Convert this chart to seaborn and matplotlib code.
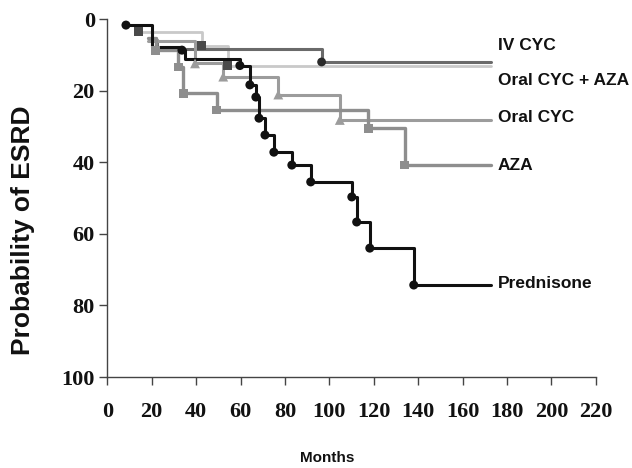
import matplotlib
matplotlib.use("Agg")
import matplotlib.pyplot as plt
import seaborn as sns
import pandas as pd

# ---- data (months, % probability of ESRD) ----
end_month = 173.0

pred_t = [8.4, 20.0, 33.6, 35.0, 59.7, 64.2, 66.9, 68.3, 71.0, 75.0, 83.1, 91.6, 110.1, 112.3, 118.2, 138.0]
pred_v = [1.7, 7.8, 8.7, 11.2, 13.0, 18.4, 21.8, 27.7, 32.4, 37.2, 40.8, 45.5, 49.7, 56.7, 64.0, 74.3]
pred_m = [1, 0, 1, 0, 1, 1, 1, 1, 1, 1, 1, 1, 1, 1, 1, 1]

ivcyc_t = [20.2, 22.4, 96.5]
ivcyc_v = [5.9, 8.4, 12.0]
ivcyc_m = [0, 0, 1]

ocaza_t = [13.9, 42.5, 54.2]
ocaza_v = [3.6, 7.5, 13.0]
ocaza_m = [1, 1, 1]

ocyc_t = [18.3, 39.5, 52.2, 77.0, 104.7]
ocyc_v = [6.1, 12.4, 16.1, 21.1, 28.2]
ocyc_m = [0, 1, 1, 1, 1]

aza_t = [18.3, 21.7, 32.0, 34.3, 49.2, 117.5, 134.0]
aza_v = [5.3, 8.7, 13.4, 20.8, 25.4, 30.5, 40.8]
aza_m = [0, 1, 1, 1, 1, 1, 1]

labels = ["IV CYC", "Oral CYC + AZA", "Oral CYC", "AZA", "Prednisone"]
label_y = [7.3, 17.3, 27.4, 40.8, 74.0]

x_ticks = list(range(0, 221, 20))
y_ticks = list(range(0, 101, 20))

# ---- style ----
sns.set_style("ticks")
plt.rcParams["font.family"] = ["Liberation Sans", "DejaVu Sans"]

fig = plt.figure(figsize=(6.32, 4.68), dpi=100)
ax = fig.add_axes([0.1698, 0.1944, 0.7730, 0.7650])

series = [
    # name, t, v, marks, line color, line width, marker, marker color, marker size
    ("Oral CYC + AZA", ocaza_t, ocaza_v, ocaza_m, "#c9c9c9", 2.0, "s", "#4a4a4a", 40),
    ("IV CYC", ivcyc_t, ivcyc_v, ivcyc_m, "#6a6a6a", 2.2, "o", "#2a2a2a", 40),
    ("Oral CYC", ocyc_t, ocyc_v, ocyc_m, "#9c9c9c", 2.2, "^", "#9c9c9c", 50),
    ("AZA", aza_t, aza_v, aza_m, "#8e8e8e", 2.4, "s", "#8e8e8e", 40),
    ("Prednisone", pred_t, pred_v, pred_m, "#111111", 2.2, "o", "#111111", 42),
]

for name, t, v, m, col, lw, mk, mcol, ms in series:
    df = pd.DataFrame({"t": list(t) + [end_month], "v": list(v) + [v[-1]]})
    sns.lineplot(data=df, x="t", y="v", ax=ax, color=col, linewidth=lw,
                 drawstyle="steps-post", estimator=None, sort=False)
    md = pd.DataFrame({"t": t, "v": v, "m": m})
    md = md[md["m"] == 1]
    sns.scatterplot(data=md, x="t", y="v", ax=ax, marker=mk, color=mcol,
                    s=ms, edgecolor="none", zorder=5)

for lab, yv in zip(labels, label_y):
    ax.text(175.8, yv, lab, ha="left", va="center", fontsize=12.5,
            fontweight="bold", color="#111111",
            family=["Liberation Sans", "DejaVu Sans"])

ax.set_xlim(0, 220)
ax.set_ylim(100, 0)
ax.set_xticks(x_ticks)
ax.set_yticks(y_ticks)
ax.set_xlabel("")
ax.set_ylabel("")
for s in ["top", "right"]:
    ax.spines[s].set_visible(False)
for s in ["left", "bottom"]:
    ax.spines[s].set_color("#444444")
    ax.spines[s].set_linewidth(1.0)
ax.tick_params(axis="both", direction="out", length=6, width=1, color="#444444")
ax.tick_params(axis="x", pad=12)
ax.tick_params(axis="y", pad=3)
for lbl in ax.get_xticklabels() + ax.get_yticklabels():
    lbl.set_family(["Liberation Serif", "DejaVu Serif"])
    lbl.set_fontweight("bold")
    lbl.set_fontsize(16)
    lbl.set_color("#111111")

fig.text(23 / 632, 1 - 230 / 468, "Probability of ESRD", rotation=90,
         ha="center", va="center", fontsize=19, fontweight="bold", color="#111111")
fig.text(327 / 632, 1 - 458 / 468, "Months", ha="center", va="center",
         fontsize=11, fontweight="bold", color="#111111")

fig.savefig("out.png", dpi=100)
